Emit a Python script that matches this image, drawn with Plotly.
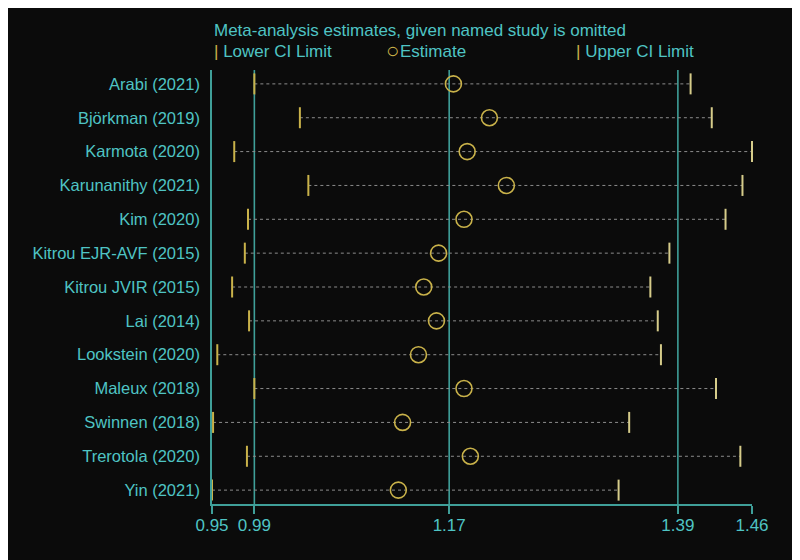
import plotly.graph_objects as go

# ---- data ----
studies = ["Arabi (2021)", "Björkman (2019)", "Karmota (2020)", "Karunanithy (2021)",
           "Kim (2020)", "Kitrou EJR-AVF (2015)", "Kitrou JVIR (2015)", "Lai (2014)",
           "Lookstein (2020)", "Maleux (2018)", "Swinnen (2018)", "Trerotola (2020)", "Yin (2021)"]
lower = [0.990, 1.033, 0.971, 1.041, 0.984, 0.981, 0.969, 0.985, 0.955, 0.990, 0.951, 0.983, 0.950]
estimate = [1.178, 1.212, 1.191, 1.228, 1.188, 1.164, 1.150, 1.162, 1.145, 1.188, 1.130, 1.194, 1.126]
upper = [1.402, 1.422, 1.460, 1.451, 1.435, 1.382, 1.364, 1.371, 1.374, 1.426, 1.344, 1.449, 1.334]

tick_values = [0.95, 0.99, 1.174, 1.39, 1.46]
tick_labels = ["0.95", "0.99", "1.17", "1.39", "1.46"]
ref_lines = [0.99, 1.174, 1.39]

# ---- styles ----
BG = "#0b0b0b"
TXT = "#4fc4c4"
AXIS = "#3f9f99"
MARK = "#c9b24a"
DOT = "#8c8c8c"
FONT = "Liberation Sans, Arial, sans-serif"

fig = go.Figure()

# dotted CI lines
xs, ys = [], []
for s, lo, up in zip(studies, lower, upper):
    xs += [lo, up, None]
    ys += [s, s, None]
fig.add_trace(go.Scatter(x=xs, y=ys, mode="lines",
                         line=dict(color=DOT, width=1, dash="dot"),
                         hoverinfo="skip", showlegend=False, cliponaxis=False))

# lower / upper CI markers
fig.add_trace(go.Scatter(x=lower, y=studies, mode="markers", name="Lower CI Limit",
                         marker=dict(symbol="line-ns", size=15,
                                     line=dict(color=MARK, width=2)),
                         showlegend=False, cliponaxis=False))
fig.add_trace(go.Scatter(x=upper, y=studies, mode="markers", name="Upper CI Limit",
                         marker=dict(symbol="line-ns", size=15,
                                     line=dict(color="#d6cc8a", width=2)),
                         showlegend=False, cliponaxis=False))
# estimates
fig.add_trace(go.Scatter(x=estimate, y=studies, mode="markers", name="Estimate",
                         marker=dict(symbol="circle-open", size=16, color=MARK,
                                     line=dict(color=MARK, width=1.6)),
                         showlegend=False, cliponaxis=False))

# reference vertical lines
for v in ref_lines:
    fig.add_shape(type="line", xref="x", yref="paper", x0=v, x1=v, y0=0, y1=1,
                  line=dict(color=AXIS, width=1.6), layer="below")

# title and legend as annotations
fig.add_annotation(xref="paper", yref="paper", x=0.0, y=1.092, xanchor="left", yanchor="middle",
                   text="Meta-analysis estimates, given named study is omitted",
                   showarrow=False, font=dict(size=17, color=TXT, family=FONT))
fig.add_annotation(xref="paper", yref="paper", x=0.0, y=1.043, xanchor="left", yanchor="middle",
                   text=f"<span style='color:{MARK}'>|</span> Lower CI Limit",
                   showarrow=False, font=dict(size=17, color=TXT, family=FONT))
fig.add_annotation(xref="paper", yref="paper", x=0.335, y=1.045, xanchor="center", yanchor="middle",
                   text="○", showarrow=False, font=dict(size=22, color=MARK, family=FONT))
fig.add_annotation(xref="paper", yref="paper", x=0.344, y=1.043, xanchor="left", yanchor="middle",
                   text="Estimate", showarrow=False, font=dict(size=17, color=TXT, family=FONT))
fig.add_annotation(xref="paper", yref="paper", x=0.67, y=1.043, xanchor="left", yanchor="middle",
                   text=f"<span style='color:{MARK}'>|</span> Upper CI Limit",
                   showarrow=False, font=dict(size=17, color=TXT, family=FONT))

fig.update_layout(
    width=800, height=560,
    paper_bgcolor=BG, plot_bgcolor=BG,
    margin=dict(l=204, r=56, t=62, b=64),
    font=dict(family=FONT, size=17, color=TXT),
    xaxis=dict(range=[0.95, 1.46], tickvals=tick_values, ticktext=tick_labels,
               showgrid=False, zeroline=False, showline=True, linecolor=AXIS, linewidth=1.6,
               ticks="outside", ticklen=8, tickwidth=1.6, tickcolor=AXIS,
               ticklabelstandoff=-3, tickfont=dict(size=17, color=TXT)),
    yaxis=dict(type="category", categoryorder="array", categoryarray=studies,
               range=[12.41, -0.41], showgrid=False, zeroline=False,
               showline=True, linecolor=AXIS, linewidth=1.6, ticks="",
               ticklabelstandoff=7, tickfont=dict(size=16.5, color=TXT)),
)

fig.write_html("out.html")
